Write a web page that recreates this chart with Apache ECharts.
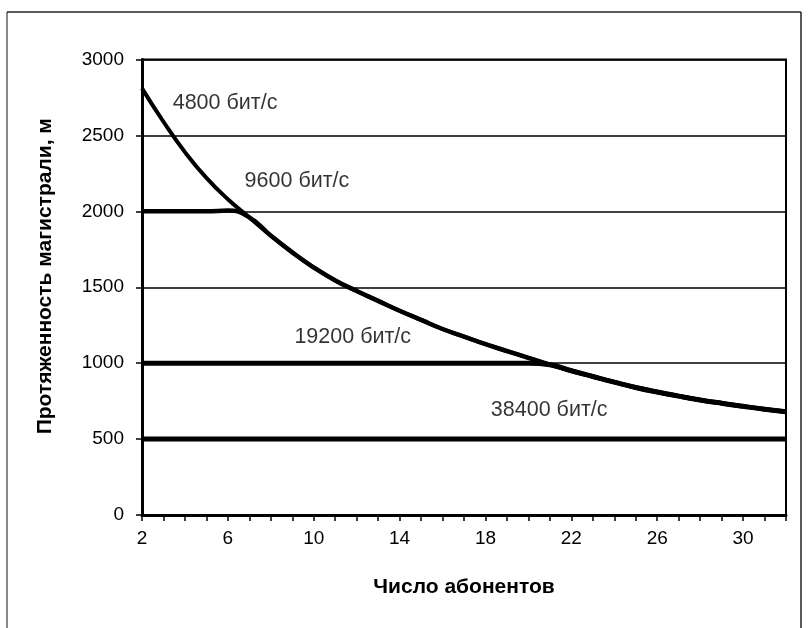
<!DOCTYPE html>
<html>
<head>
<meta charset="utf-8">
<script src="https://cdn.jsdelivr.net/npm/echarts@6/dist/echarts.min.js"></script>
<style>
html,body{margin:0;padding:0;background:#fff;}
#c{width:809px;height:628px;}
</style>
</head>
<body>
<div id="c"></div>
<script>
// Data
const subscribers = [2,3,4,5,6,7,8,9,10,11,12,13,14,15,16,17,18,19,20,21,22,23,24,25,26,27,28,29,30,31,32];
const len4800  = [2810,2590,2390,2220,2080,1960,1840,1730,1630,1545,1475,1410,1345,1285,1225,1175,1125,1080,1035,990,950,912,875,840,810,783,758,736,716,697,680];
const len9600  = [2000,2000,2000,2000,2005,1960,1840,1730,1630,1545,1475,1410,1345,1285,1225,1175,1125,1080,1035,990,950,912,875,840,810,783,758,736,716,697,680];
const len19200 = [1000,1000,1000,1000,1000,1000,1000,1000,1000,1000,1000,1000,1000,1000,1000,1000,1000,1000,1000,990,950,912,875,840,810,783,758,736,716,697,680];
const len38400 = [500,500,500,500,500,500,500,500,500,500,500,500,500,500,500,500,500,500,500,500,500,500,500,500,500,500,500,500,500,500,500];
const seriesNames = ['4800 бит/с','9600 бит/с','19200 бит/с','38400 бит/с'];
const labelX = [3.43, 6.78, 9.1, 18.25];
const labelY = [2715, 2197, 1173, 691];
const xTitle = 'Число абонентов';
const yTitle = 'Протяженность магистрали, м';

const FONT = '"Liberation Sans", Arial, sans-serif';
const pair = arr => subscribers.map((x,i)=>[x,arr[i]]);
const widths = [4, 4.5, 5, 5];
const lineSeries = [len4800,len9600,len19200,len38400].map((arr,i)=>({
  name: seriesNames[i], type:'line', data: pair(arr), smooth: 0.5,
  symbol:'none', lineStyle:{color:'#000', width:widths[i]}, z: 3, silent:true
}));

const chart = echarts.init(document.getElementById('c'), null, {renderer:'canvas'});
chart.setOption({
  backgroundColor:'#fff',
  animation:false,
  grid:{left:142, right:23, top:59.5, bottom:113, show:true, borderColor:'#000', borderWidth:2, backgroundColor:'transparent'},
  xAxis:{
    type:'value', min:2, max:32, interval:1,
    name: xTitle, nameLocation:'middle', nameGap:62,
    nameTextStyle:{fontFamily:FONT, fontSize:21, fontWeight:'bold', color:'#000'},
    axisLine:{show:true, lineStyle:{color:'#000', width:3}},
    axisTick:{show:true, inside:false, length:6, lineStyle:{color:'#000', width:1.5}},
    axisLabel:{fontFamily:FONT, fontSize:19, color:'#000', margin:14,
      formatter: v => ((v-2)%4===0 ? String(v) : '')},
    splitLine:{show:false}
  },
  yAxis:{
    type:'value', min:0, max:3000, interval:500,
    name: yTitle, nameLocation:'middle', nameGap:86,
    nameTextStyle:{fontFamily:FONT, fontSize:21, fontWeight:'bold', color:'#000', padding:[0,0,0,22]},
    axisLine:{show:true, lineStyle:{color:'#000', width:3}},
    axisTick:{show:true, inside:false, length:6, lineStyle:{color:'#000', width:1.5}},
    axisLabel:{fontFamily:FONT, fontSize:19, color:'#000', margin:18, formatter: v => String(v)},
    splitLine:{show:true, lineStyle:{color:'#000', width:1.5}}
  },
  series: lineSeries.concat([{
    type:'scatter', symbolSize:0, silent:true, z:5,
    data: seriesNames.map((n,i)=>({value:[labelX[i], labelY[i]], name:n})),
    label:{show:true, position:'right', distance:0, formatter: p => p.name,
      fontFamily:FONT, fontSize:21.5, color:'#000'}
  }]),
  graphic:[
    {type:'line', shape:{x1:7, y1:12, x2:7, y2:628}, style:{stroke:'#888', lineWidth:2}},
    {type:'line', shape:{x1:7, y1:12, x2:801, y2:12}, style:{stroke:'#222', lineWidth:1.5}},
    {type:'line', shape:{x1:801, y1:12, x2:801, y2:628}, style:{stroke:'#222', lineWidth:1.5}}
  ]
});
</script>
</body>
</html>
